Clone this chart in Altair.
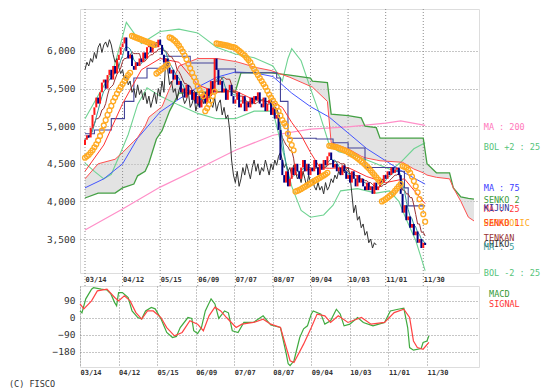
import altair as alt
import pandas as pd

# ---------------- data ----------------
date_labels = ["03/14", "04/12", "05/15", "06/09", "07/07", "08/07", "09/04", "10/03", "11/01", "11/30"]
date_ticks = [0, 20, 40, 60, 80, 100, 120, 140, 160, 180]
price_ticks = [3500, 4000, 4500, 5000, 5500, 6000]
macd_ticks = [90, 0, -90, -180]

close = [
    4820, 4880, 4850, 4980, 5150, 5250, 5380, 5300, 5450, 5580,
    5620, 5500, 5680, 5750, 5620, 5800, 5700, 5880, 5950, 6050,
    6100, 6180, 6000, 5900, 5950, 5800, 5750, 5850, 5800, 5900,
    5850, 5980, 5900, 6050, 6100, 5980, 6080, 6120, 6050, 6150,
    6080, 5950, 5850, 5900, 5780, 5700, 5750, 5620, 5680, 5550,
    5600, 5450, 5500, 5380, 5550, 5420, 5480, 5350, 5450, 5300,
    5400, 5250, 5350, 5450, 5300, 5500, 5400, 5600, 5450, 5900,
    5750, 5550, 5600, 5450, 5500, 5350, 5480, 5550, 5400, 5300,
    5350, 5450, 5250, 5300, 5400, 5200, 5320, 5250, 5380, 5300,
    5400, 5350, 5450, 5300, 5250, 5380, 5200, 5300, 5350, 5150,
    5250, 5100, 5150, 4950, 4550, 4350, 4250, 4400, 4200, 4300,
    4450, 4350, 4500, 4400, 4300, 4450, 4550, 4400, 4500, 4350,
    4450, 4400, 4550, 4450, 4350, 4500, 4420, 4550, 4480, 4600,
    4650, 4550, 4450, 4500, 4400, 4450, 4350, 4480, 4400, 4300,
    4350, 4250, 4400, 4300, 4200, 4350, 4250, 4300, 4200, 4150,
    4250, 4150, 4200, 4100, 4250, 4150, 4200, 4300, 4250, 4350,
    4300, 4400, 4350, 4450, 4380, 4420, 4450, 4350, 4100, 3850,
    3950, 3750, 3800, 3650, 3700, 3550, 3600, 3450, 3500, 3380, 3450, 3420,
]
first_open = 4750

sar = [
    4580, 4600, 4620, 4650, 4680, 4720, 4760, 4810, 4870, 4940, 5010, 5080, 5150,
    5210, 5270, 5330, 5380, 5430, 5480, 5520, 5560, 5600, 5640, 5680, 5710,
    6200, 6190, 6180, 6170, 6160, 6150, 6140, 6130, 6120, 6110, 6100, 6090, 6080,
    5700, 5720, 5740, 5760, 5780, 5800, 5820,
    6180, 6170, 6150, 6130, 6100, 6070, 6030, 5990, 5940, 5890, 5830, 5770, 5710,
    5650, 5590, 5530, 5480, 5440, 5400,
    5200, 5240, 5290, 5340, 5400, 5460,
    6100, 6095, 6090, 6085, 6080, 6075, 6070, 6060, 6055, 6050,
    6040, 6020, 6000, 5980, 5960, 5940, 5910, 5880, 5850, 5800,
    5760, 5720, 5680, 5640, 5600, 5560, 5520, 5470, 5420, 5380,
    5340, 5300, 5260, 5200, 5140, 5080, 5040, 5000, 4900, 4820, 4750, 4680,
    4130, 4140, 4150, 4165, 4180, 4195, 4210, 4225, 4240, 4255, 4270, 4285,
    4300, 4315, 4330, 4345, 4360, 4380,
    4740, 4735, 4730, 4725, 4720, 4710, 4700, 4690, 4680, 4670, 4655, 4640, 4625,
    4610, 4595, 4575, 4555, 4535, 4515, 4490, 4465, 4440, 4410, 4380, 4350, 4320,
    4290, 4260,
    4000, 4015, 4030, 4050, 4070, 4090, 4110, 4140, 4170, 4200, 4230,
    4470, 4460, 4450, 4420, 4380, 4330, 4270, 4200, 4120, 4030, 3930, 3830, 3730,
]

ma200_i = [0, 20, 40, 60, 80, 100, 120, 140, 160, 168, 181]
ma200_v = [3620, 3900, 4190, 4430, 4680, 4880, 4960, 4990, 5040, 5070, 5010]

ma75_i = [0, 10, 20, 28, 40, 50, 60, 70, 80, 90, 100, 110, 120, 130, 150, 170, 181]
ma75_v = [4180, 4300, 4500, 4840, 5190, 5360, 5520, 5650, 5720, 5710, 5660, 5440, 5260, 5120, 4700, 4380, 4230]

ma25_i = [0, 10, 20, 30, 40, 50, 60, 70, 80, 90, 100, 105, 110, 115, 120, 125, 130, 140, 150, 160, 170, 175, 181]
ma25_v = [4400, 4750, 5300, 5750, 5900, 5850, 5550, 5450, 5470, 5350, 5320, 5250, 5050, 4880, 4650, 4450, 4440, 4450, 4330, 4250, 4300, 4150, 3970]

bolu_i = [0, 8, 15, 19, 22, 30, 40, 50, 60, 70, 80, 90, 100, 105, 108, 110, 115, 120, 125, 130, 135, 145, 155, 163, 168, 175, 181]
bolu_v = [5100, 5450, 5750, 6100, 6380, 6100, 6260, 6290, 6240, 6050, 5960, 5910, 5800, 5600, 5900, 6030, 5870, 5500, 5150, 4750, 4660, 4600, 4500, 4420, 4520, 4700, 4780]

boll_i = [0, 5, 10, 14, 19, 23, 28, 33, 40, 50, 60, 70, 80, 90, 100, 105, 110, 115, 120, 127, 132, 136, 145, 155, 162, 167, 171, 176, 181]
boll_v = [4510, 4400, 4300, 4360, 4650, 4890, 5290, 5510, 5400, 5280, 5170, 5100, 5100, 5200, 5200, 4700, 4200, 3880, 3790, 3820, 3950, 4140, 4170, 4110, 4140, 4000, 3760, 3480, 3080]

kijun_i = [0, 5, 14, 21, 26, 33, 42, 56, 69, 80, 102, 104, 108, 123, 132, 140, 149, 165, 170, 172, 181]
kijun_v = [4900, 4950, 5100, 5330, 5640, 5770, 5930, 5840, 5760, 5710, 5640, 5330, 4840, 4830, 4780, 4710, 4450, 4400, 4180, 3940, 3940]

cloud_i = [0, 7, 16, 20, 26, 28, 32, 34, 38, 41, 45, 50, 60, 70, 80, 83, 91, 99, 109, 120, 121,
           129, 131, 140, 147, 149, 155, 157, 169, 175, 180, 182, 187, 194, 196, 200, 204, 207]
senko2_v = [4045, 4110, 4110, 4180, 4230, 4340, 4400, 4510, 4830, 4940, 5200, 5440, 5450, 5460, 5460, 5710,
            5710, 5710, 5680, 5640, 5600, 5580, 5160, 5140, 5110, 5000, 4980, 4840, 4840, 4840, 4840, 4500,
            4380, 4380, 4180, 4060, 4040, 4030]
senko1_v = [4300, 4500, 4560, 4650, 4800, 4850, 5000, 5120, 5200, 5260, 5500, 5800, 5900, 5900, 5860, 5840,
            5780, 5740, 5650, 5530, 5520, 5330, 4780, 4700, 4600, 4580, 4550, 4540, 4520, 4430, 4380, 4350,
            4320, 4300, 4180, 4000, 3790, 3740]

macd_i = [0, 1, 3, 6, 7, 11, 14, 16, 18, 19, 20, 22, 25, 27, 30, 32, 34, 37, 39, 42, 45, 48, 50, 52, 56,
          58, 59, 61, 63, 65, 68, 70, 72, 75, 77, 79, 82, 85, 90, 95, 99, 104, 107, 108, 109, 111, 114,
          116, 118, 120, 121, 125, 127, 130, 133, 135, 137, 140, 144, 147, 152, 158, 161, 165, 168, 170,
          171, 173, 177, 178, 180, 181]
macd_v = [35, 25, 99, 150, 158, 150, 146, 125, 79, 62, 132, 132, 106, 35, 0, -8, 35, 53, 46, -7, -79,
          -106, -100, -53, 0, -5, -70, -85, -53, 35, 99, 72, -5, 35, 25, -70, -80, -26, -26, 9, -40, -53,
          -192, -245, -255, -229, -106, -60, -44, 19, 35, 18, -35, -17, 44, 19, -44, -35, 0, -26, -44,
          -26, 35, 44, 50, -53, -159, -173, -164, -132, -124, -97]

sig_i = [0, 2, 6, 9, 14, 18, 20, 23, 26, 29, 32, 35, 38, 42, 45, 49, 53, 57, 61, 64, 67, 70, 73, 76,
         81, 84, 90, 95, 99, 104, 109, 111, 116, 120, 123, 127, 130, 134, 139, 146, 151, 158, 163, 168,
         171, 173, 175, 178, 181]
sig_v = [72, 46, 88, 141, 150, 106, 88, 115, 88, 26, -8, 35, 35, 0, -53, -97, -79, -17, -35, -70, 10,
         55, 35, 0, -53, -35, -26, -9, -35, -53, -229, -238, -141, -53, 18, 9, -26, 9, -26, 0, -35, -26,
         26, 44, 0, -124, -159, -168, -132]

legend_labels = ["MA : 200", "BOL +2 : 25", "MA : 75", "SENKO 2", "MA : 25", "KIJUN", "PARABOLIC",
                 "SENKO 1", "TENKAN", "CHIKO", "MA : 5", "BOL -2 : 25"]
legend_y = [4989, 4723, 4178, 4019, 3899, 3912, 3713, 3713, 3513, 3433, 3394, 3048]
legend_colors = ["#ff77bb", "#55c47a", "#3b3bff", "#3d9a3d", "#ff3333", "#333399", "#ffaa22",
                 "#ff3a1a", "#993333", "#333333", "#339999", "#55c47a"]
macd_labels = ["MACD", "SIGNAL"]
macd_label_y = [124, 71]
macd_label_colors = ["#339933", "#ff3333"]
legend_x = 212.2

# ---------------- layout / style ----------------
W, H1, H2 = 399, 264, 81
XDOM = [0, 207]
YDOM = [3048, 6558]
MDOM = [-262, 167]
MONO = "DejaVu Sans Mono"
GRIDC = "#8c8c8c"

label_expr = "[" + ",".join("'%s'" % d for d in date_labels) + "][round(datum.value/20)]"
xscale = alt.Scale(domain=XDOM, nice=False, zero=False)
yscale = alt.Scale(domain=YDOM, nice=False, zero=False)
mscale = alt.Scale(domain=MDOM, nice=False, zero=False)


def xaxis(grid, pad):
    return alt.Axis(values=date_ticks, labelExpr=label_expr, labelAlign="left", labelFont=MONO,
                    labelFontSize=7, labelFontWeight="bold", labelColor="#333333", labelPadding=pad,
                    ticks=False, domain=False, grid=grid, gridColor=GRIDC, gridDash=[1, 2],
                    title=None, labelOverlap=False, labelFlush=False)


xa_main = xaxis(False, 2)
xa_macd = xaxis(True, 1)
ya_main = alt.Axis(values=price_ticks, format=",d", labelFont=MONO, labelFontSize=9.5,
                   labelColor="#333333", labelPadding=5, ticks=False, domain=False, grid=True,
                   gridColor=GRIDC, gridDash=[1, 2], title=None)
ya_macd = alt.Axis(values=macd_ticks, format="d", labelFont=MONO, labelFontSize=9.5,
                   labelColor="#333333", labelPadding=5, ticks=False, domain=False, grid=True,
                   gridColor=GRIDC, gridDash=[1, 2], title=None)


def X(field, ax):
    return alt.X(field, type="quantitative", scale=xscale, axis=ax)


def Y(field):
    return alt.Y(field, type="quantitative", scale=yscale, axis=ya_main)


def M(field):
    return alt.Y(field, type="quantitative", scale=mscale, axis=ya_macd)


def series(idx, vals):
    return pd.DataFrame({"i": idx, "v": vals})


def line(idx, vals, color, width=1.0, interp="linear"):
    return alt.Chart(series(idx, vals)).mark_line(color=color, strokeWidth=width, interpolate=interp).encode(
        x=X("i", xa_main), y=Y("v"))


n = len(close)
days = list(range(n))
df_c = pd.DataFrame({"i": days, "close": close})
df_c["open"] = df_c["close"].shift(1).fillna(first_open)
df_c["dir"] = ["up" if c >= o else "down" for c, o in zip(df_c["close"], df_c["open"])]

df_cloud = pd.DataFrame({"i": cloud_i, "s1": senko1_v, "s2": senko2_v})
df_ticks = pd.DataFrame({"t": date_ticks})

cloud = alt.Chart(df_cloud).mark_area(color="#c8c8c8", opacity=0.5).encode(
    x=X("i", xa_main), y=Y("s1"), y2=alt.Y2("s2"))
vgrid = alt.Chart(df_ticks).mark_rule(color=GRIDC, strokeDash=[1, 2], strokeWidth=1).encode(
    x=X("t", xa_main), y=alt.value(0), y2=alt.value(H1 + 13))

ma200 = line(ma200_i, ma200_v, "#ff8fc8", 1.2)
bolu = line(bolu_i, bolu_v, "#6fd392", 1.1)
boll = line(boll_i, boll_v, "#6fd392", 1.1)
ma75 = line(ma75_i, ma75_v, "#4455ff")
senko2 = line(cloud_i, senko2_v, "#44a044", 1.3)
senko1 = line(cloud_i, senko1_v, "#ff5050")
kijun = line(kijun_i, kijun_v, "#444499", 1.1, "step-after")
ma25 = line(ma25_i, ma25_v, "#ff3333")

chiko = alt.Chart(df_c).transform_calculate(ci="datum.i - 26").transform_filter(
    "datum.ci >= 0").mark_line(color="#333333", strokeWidth=1).encode(x=X("ci", xa_main), y=Y("close"))
tenkan = alt.Chart(df_c).transform_window(
    hi="max(close)", lo="min(close)", frame=[-8, 0], sort=[{"field": "i"}]
).transform_calculate(tk="(datum.hi + datum.lo) / 2").mark_line(
    color="#993333", strokeWidth=1).encode(x=X("i", xa_main), y=Y("tk"))
ma5 = alt.Chart(df_c).transform_window(
    m5="mean(close)", frame=[-4, 0], sort=[{"field": "i"}]
).mark_line(color="#339999", strokeWidth=1).encode(x=X("i", xa_main), y=Y("m5"))

candles = alt.Chart(df_c).mark_bar(size=2).encode(
    x=X("i", xa_main), y=Y("open"), y2=alt.Y2("close"),
    color=alt.Color("dir:N", scale=alt.Scale(domain=["up", "down"], range=["#ff1a1a", "#000080"]), legend=None))

sar_pts = alt.Chart(pd.DataFrame({"i": days, "sar": sar})).mark_point(
    shape="circle", filled=False, color="#ffaa22", strokeWidth=1.3, size=24, opacity=1).encode(
    x=X("i", xa_main), y=Y("sar"))

df_leg = pd.DataFrame({"x": [legend_x] * len(legend_labels), "y": legend_y, "t": legend_labels, "c": legend_colors})
legend = alt.Chart(df_leg).mark_text(align="left", baseline="middle", font=MONO, fontSize=8.5).encode(
    x=X("x", xa_main), y=Y("y"), text="t:N", color=alt.Color("c:N", scale=None))

main = alt.layer(cloud, vgrid, ma200, bolu, boll, ma75, senko2, senko1, kijun, ma25, chiko, tenkan,
                 ma5, candles, sar_pts, legend).properties(width=W, height=H1)

# ---------------- MACD panel ----------------
macd_line = alt.Chart(series(macd_i, macd_v)).mark_line(color="#3faa3f", strokeWidth=1.2).encode(
    x=X("i", xa_macd), y=M("v"))
sig_line = alt.Chart(series(sig_i, sig_v)).mark_line(color="#ff4444", strokeWidth=1.2).encode(
    x=X("i", xa_macd), y=M("v"))
df_mleg = pd.DataFrame({"x": [legend_x] * 2, "y": macd_label_y, "t": macd_labels, "c": macd_label_colors})
mlegend = alt.Chart(df_mleg).mark_text(align="left", baseline="middle", font=MONO, fontSize=8.5).encode(
    x=X("x", xa_macd), y=M("y"), text="t:N", color=alt.Color("c:N", scale=None))
credit = alt.Chart(pd.DataFrame({"t": ["(C) FISCO"]})).mark_text(
    align="left", baseline="middle", font=MONO, fontSize=8.5, color="#333333").encode(
    x=alt.value(-71), y=alt.value(H2 + 17), text="t:N")

macd = alt.layer(macd_line, sig_line, mlegend, credit).properties(width=W, height=H2)

chart = alt.vconcat(main, macd, spacing=13, bounds="flush").properties(
    padding={"left": 0, "top": 0, "right": 0, "bottom": 0}
).configure_view(stroke=None).configure(background="white")

chart.save("out.html", embed_options={"renderer": "svg", "actions": False})
